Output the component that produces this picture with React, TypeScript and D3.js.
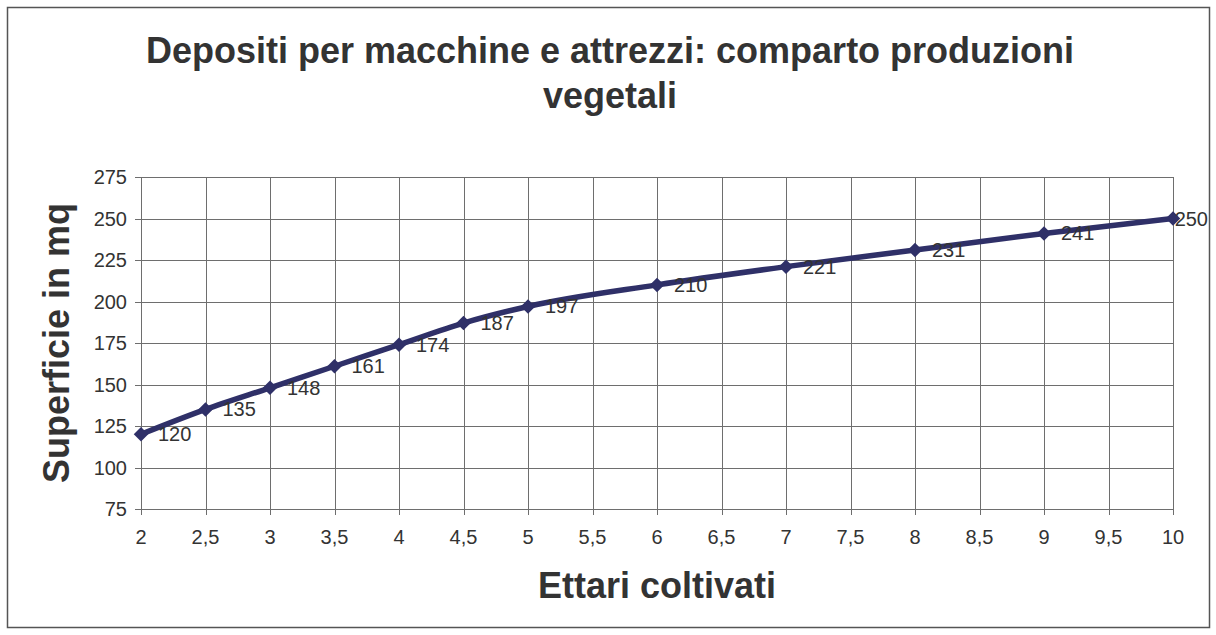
import React, { useEffect, useRef } from "react";
import * as d3 from "d3";

const ettari = [2, 2.5, 3, 3.5, 4, 4.5, 5, 6, 7, 8, 9, 10];
const superficie = [120, 135, 148, 161, 174, 187, 197, 210, 221, 231, 241, 250];
const xTicks = [2, 2.5, 3, 3.5, 4, 4.5, 5, 5.5, 6, 6.5, 7, 7.5, 8, 8.5, 9, 9.5, 10];
const yTicks = [75, 100, 125, 150, 175, 200, 225, 250, 275];
const titleLines = ["Depositi per macchine e attrezzi: comparto produzioni", "vegetali"];
const xTitle = "Ettari coltivati";
const yTitle = "Superficie in mq";

const App: React.FC = () => {
  const svgRef = useRef<SVGSVGElement>(null);

  useEffect(() => {
    const width = 1216;
    const height = 635;
    const left = 141;
    const right = 1173;
    const top = 177;
    const bottom = 509;
    const font = "'Liberation Sans', Arial, sans-serif";
    const textColor = "#333333";
    const lineColor = "#2f3068";

    const svg = d3.select(svgRef.current);
    svg.selectAll("*").remove();
    svg.attr("width", width).attr("height", height);

    const x = d3.scaleLinear().domain([2, 10]).range([left, right]);
    const y = d3.scaleLinear().domain([75, 275]).range([bottom, top]);

    // chart border
    svg
      .append("rect")
      .attr("x", 7.5)
      .attr("y", 7.5)
      .attr("width", 1202)
      .attr("height", 620)
      .attr("fill", "white")
      .attr("stroke", "#555")
      .attr("stroke-width", 1.5);

    // gridlines
    const grid = svg.append("g").attr("shape-rendering", "crispEdges");
    grid
      .selectAll(".hgrid")
      .data(yTicks)
      .enter()
      .append("line")
      .attr("x1", left - 6)
      .attr("x2", right)
      .attr("y1", (d) => Math.round(y(d)) + 0.5)
      .attr("y2", (d) => Math.round(y(d)) + 0.5)
      .attr("stroke", "#6e6e6e");
    grid
      .selectAll(".vgrid")
      .data(xTicks)
      .enter()
      .append("line")
      .attr("x1", (d) => Math.round(x(d)) + 0.5)
      .attr("x2", (d) => Math.round(x(d)) + 0.5)
      .attr("y1", top)
      .attr("y2", bottom + 6)
      .attr("stroke", "#6e6e6e");

    // tick labels
    svg
      .selectAll(".ylab")
      .data(yTicks)
      .enter()
      .append("text")
      .attr("x", 127)
      .attr("y", (d) => y(d))
      .attr("dy", "0.35em")
      .attr("text-anchor", "end")
      .style("font-family", font)
      .style("font-size", "20px")
      .attr("fill", textColor)
      .text((d) => String(d));

    svg
      .selectAll(".xlab")
      .data(xTicks)
      .enter()
      .append("text")
      .attr("x", (d) => x(d))
      .attr("y", 544)
      .attr("text-anchor", "middle")
      .style("font-family", font)
      .style("font-size", "20px")
      .attr("fill", textColor)
      .text((d) => String(d).replace(".", ","));

    // series line
    const pts = ettari.map((e, i) => [e, superficie[i]] as [number, number]);
    const line = d3
      .line<[number, number]>()
      .x((d) => x(d[0]))
      .y((d) => y(d[1]))
      .curve(d3.curveMonotoneX);

    svg
      .append("path")
      .attr("d", line(pts))
      .attr("fill", "none")
      .attr("stroke", lineColor)
      .attr("stroke-width", 5.5)
      .attr("stroke-linejoin", "round");

    const diamond = d3.symbol().type(d3.symbolSquare).size(105);
    svg
      .selectAll(".marker")
      .data(pts)
      .enter()
      .append("path")
      .attr("d", diamond)
      .attr("transform", (d) => `translate(${x(d[0])},${y(d[1])}) rotate(45)`)
      .attr("fill", lineColor);

    // data labels
    svg
      .selectAll(".dlab")
      .data(pts)
      .enter()
      .append("text")
      .attr("y", (d) => y(d[1]))
      .attr("dy", "0.35em")
      .style("font-family", font)
      .style("font-size", "20px")
      .attr("fill", textColor)
      .text((d) => String(d[1]))
      .attr("x", function (d) {
        const w = (this as SVGTextElement).getComputedTextLength();
        return Math.min(x(d[0]) + 17, 1208 - w);
      });

    // titles
    svg
      .selectAll(".title")
      .data(titleLines)
      .enter()
      .append("text")
      .attr("x", 610)
      .attr("y", (d, i) => 63 + i * 45)
      .attr("text-anchor", "middle")
      .style("font-family", font)
      .style("font-size", "36px")
      .style("font-weight", "bold")
      .attr("fill", textColor)
      .text((d) => d);

    svg
      .append("text")
      .attr("x", (left + right) / 2)
      .attr("y", 598)
      .attr("text-anchor", "middle")
      .style("font-family", font)
      .style("font-size", "36px")
      .style("font-weight", "bold")
      .attr("fill", textColor)
      .text(xTitle);

    svg
      .append("text")
      .attr("transform", `translate(69,${(top + bottom) / 2}) rotate(-90)`)
      .attr("text-anchor", "middle")
      .style("font-family", font)
      .style("font-size", "36px")
      .style("font-weight", "bold")
      .attr("fill", textColor)
      .text(yTitle);
  }, []);

  return (
    <div style={{ position: "absolute", left: 0, top: 0, width: "1216px", height: "635px", background: "white" }}>
      <svg ref={svgRef} style={{ display: "block" }}></svg>
    </div>
  );
};

export default App;
